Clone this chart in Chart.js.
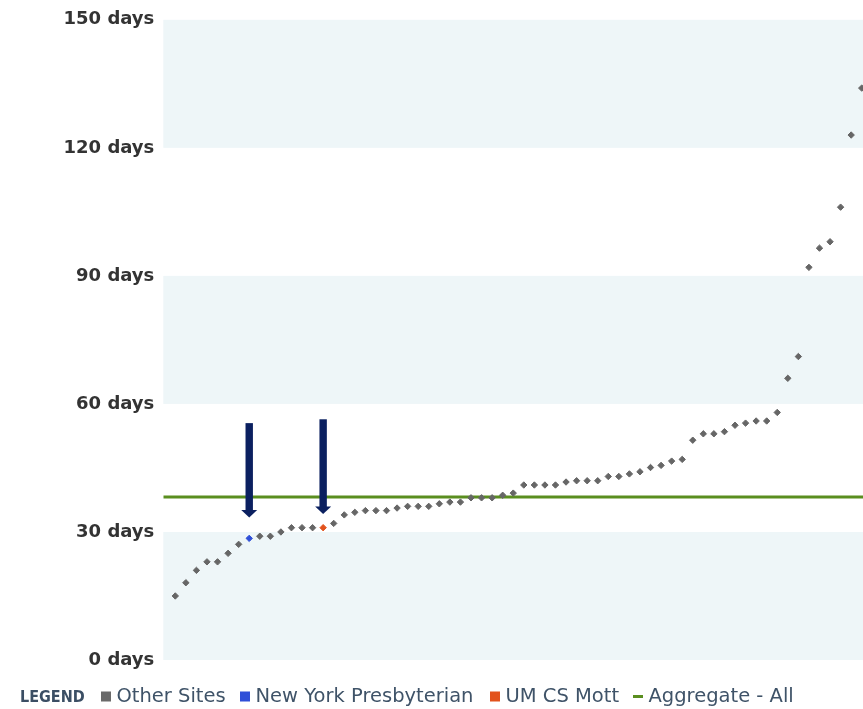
<!DOCTYPE html>
<html>
<head>
<meta charset="utf-8">
<script src="https://cdn.jsdelivr.net/npm/chart.js@4"></script>
<style>
  html, body { margin: 0; padding: 0; background: #ffffff; overflow: hidden; }
  #wrap { width: 863px; height: 709px; position: relative; }
  canvas { display: block; }
</style>
</head>
<body>
<div id="wrap"><canvas id="c" width="863" height="709"></canvas></div>
<script>
// ---- data ----
const siteValues = [
  15.0, 18.1, 21.0, 23.0, 23.0, 25.0, 27.1, 28.5, 29.0, 29.0,
  30.0, 31.0, 31.0, 31.0, 31.0, 32.0, 34.0, 34.6, 35.0, 35.0,
  35.0, 35.6, 36.0, 36.0, 36.0, 36.6, 37.0, 37.0, 38.0, 38.0,
  38.0, 38.6, 39.1, 41.0, 41.0, 41.0, 41.0, 41.7, 42.0, 42.0,
  42.0, 43.0, 43.0, 43.6, 44.1, 45.1, 45.6, 46.6, 47.0, 51.5,
  53.0, 53.0, 53.5, 55.0, 55.5, 56.0, 56.0, 58.0, 66.0, 71.1,
  92.0, 96.5, 98.0, 106.1, 123.0, 134.0
];
const nypIndex = 7;    // New York Presbyterian
const mottIndex = 14;  // UM CS Mott
const aggregateValue = 38.2;
const yTicks = [0, 30, 60, 90, 120, 150];
const bandRanges = [[0, 30], [60, 90], [120, 150]];
const arrowSpecs = [
  { index: nypIndex, top: 55.5, tip: 33.4 },
  { index: mottIndex, top: 56.4, tip: 34.2 }
];
const xMin = -1.136, xMax = 65.12;
const legendTitle = 'LEGEND';
const legendLabels = ['Other Sites', 'New York Presbyterian', 'UM CS Mott', 'Aggregate - All'];
const legendColors = ['#6a6a6a', '#2f4fd8', '#e2521c', '#5a8e1f'];
const legendKinds = ['box', 'box', 'box', 'dash'];
const legendX = [101, 240, 490, 633];

const otherData = siteValues
  .map((v, i) => ({ x: i, y: v }))
  .filter(p => p.x !== nypIndex && p.x !== mottIndex);
const nypData = [{ x: nypIndex, y: siteValues[nypIndex] }];
const mottData = [{ x: mottIndex, y: siteValues[mottIndex] }];
const aggData = [{ x: xMin, y: aggregateValue }, { x: xMax, y: aggregateValue }];

const bandsPlugin = {
  id: 'bands',
  beforeDatasetsDraw(chart) {
    const { ctx, chartArea, scales } = chart;
    ctx.save();
    ctx.fillStyle = '#eef6f8';
    bandRanges.forEach(([a, b]) => {
      const y1 = scales.y.getPixelForValue(b);
      const y2 = scales.y.getPixelForValue(a);
      ctx.fillRect(chartArea.left, y1, chartArea.right - chartArea.left, y2 - y1);
    });
    ctx.restore();
  }
};

const arrowsPlugin = {
  id: 'arrows',
  afterDatasetsDraw(chart) {
    const { ctx, scales } = chart;
    ctx.save();
    ctx.fillStyle = '#0b2060';
    arrowSpecs.forEach(a => {
      const x = scales.x.getPixelForValue(a.index);
      const yTop = scales.y.getPixelForValue(a.top);
      const yTip = scales.y.getPixelForValue(a.tip);
      const headH = 7.5, shaftW = 7.4, headW = 16;
      const yHead = yTip - headH;
      ctx.fillRect(x - shaftW / 2, yTop, shaftW, yHead - yTop + 0.5);
      ctx.beginPath();
      ctx.moveTo(x - headW / 2, yHead);
      ctx.lineTo(x + headW / 2, yHead);
      ctx.lineTo(x, yTip);
      ctx.closePath();
      ctx.fill();
    });
    ctx.restore();
  }
};

const legendPlugin = {
  id: 'customLegend',
  afterDraw(chart) {
    const ctx = chart.ctx;
    ctx.save();
    const baseY = 702;
    ctx.textBaseline = 'alphabetic';
    ctx.textAlign = 'left';
    ctx.font = 'bold 16px "DejaVu Sans Condensed", "DejaVu Sans", sans-serif';
    ctx.fillStyle = '#3b4e64';
    ctx.fillText(legendTitle, 20, baseY);
    ctx.font = '19.5px "DejaVu Sans", sans-serif';
    legendLabels.forEach((label, i) => {
      const x = legendX[i];
      ctx.fillStyle = legendColors[i];
      if (legendKinds[i] === 'box') {
        ctx.fillRect(x, 691.5, 10, 10);
      } else {
        ctx.fillRect(x, 695, 10, 3);
      }
      ctx.fillStyle = '#3f5368';
      ctx.fillText(label, x + 15.5, baseY);
    });
    ctx.restore();
  }
};

new Chart(document.getElementById('c'), {
  type: 'scatter',
  data: {
    datasets: [
      {
        label: 'Aggregate - All',
        type: 'line',
        data: aggData,
        borderColor: '#5a8e1f',
        borderWidth: 3,
        pointRadius: 0,
        fill: false,
        order: 4
      },
      {
        label: 'Other Sites',
        data: otherData,
        pointStyle: 'rectRot',
        pointRadius: 3.2,
        borderWidth: 1,
        backgroundColor: '#666666',
        borderColor: '#666666',
        order: 3
      },
      {
        label: 'New York Presbyterian',
        data: nypData,
        pointStyle: 'rectRot',
        pointRadius: 3.2,
        borderWidth: 1,
        backgroundColor: '#2f4fd8',
        borderColor: '#2f4fd8',
        order: 2
      },
      {
        label: 'UM CS Mott',
        data: mottData,
        pointStyle: 'rectRot',
        pointRadius: 3.2,
        borderWidth: 1,
        backgroundColor: '#e2521c',
        borderColor: '#e2521c',
        order: 1
      }
    ]
  },
  options: {
    responsive: false,
    animation: false,
    devicePixelRatio: 1,
    layout: { autoPadding: false, padding: { top: 19, bottom: 49, left: 0, right: 0 } },
    plugins: {
      legend: { display: false },
      tooltip: { enabled: false }
    },
    scales: {
      x: {
        type: 'linear',
        min: xMin,
        max: xMax,
        display: false
      },
      y: {
        min: 0,
        max: 150,
        afterFit(scale) { scale.width = 163.3; },
        afterBuildTicks(scale) { scale.ticks = yTicks.map(v => ({ value: v })); },
        grid: { display: false, drawTicks: false },
        border: { display: false },
        ticks: {
          padding: 9,
          color: '#333333',
          font: { family: '"DejaVu Sans", sans-serif', size: 18, weight: 'bold' },
          callback: v => v + ' days'
        }
      }
    }
  },
  plugins: [bandsPlugin, arrowsPlugin, legendPlugin]
});
</script>
</body>
</html>
